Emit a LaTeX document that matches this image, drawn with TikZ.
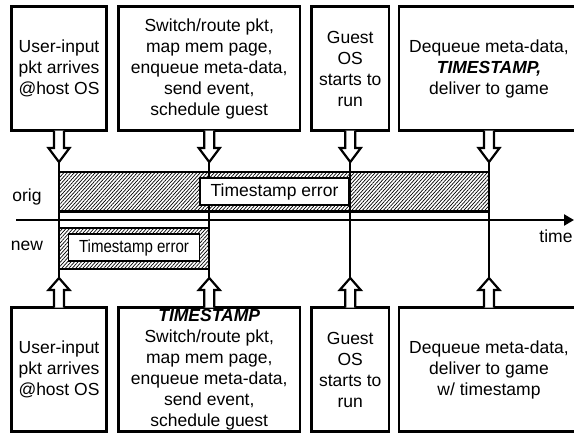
\documentclass[tikz,border=0pt]{standalone}
\usepackage{fontspec}
\setmainfont{Liberation Sans}
\usetikzlibrary{patterns.meta,arrows.meta,calc}
\begin{document}
\begin{tikzpicture}[x=1pt,y=-1pt,
  box/.style={draw,line width=2.6pt,inner sep=0pt,outer sep=0pt,align=center,
    font=\fontsize{17.5}{21}\selectfont,minimum height=124pt},
  lbl/.style={font=\fontsize{17.5}{21}\selectfont,inner sep=0pt},
  blockarrow/.style={draw,fill=white,line width=2.2pt,line join=miter},
  tickline/.style={line width=2pt},
  bar/.style={draw,line width=2.4pt,pattern={Lines[angle=48,distance=2.6pt,line width=0.7pt]}},
  errbox/.style={draw,fill=white,line width=1.2pt,inner sep=0pt,minimum height=27pt,
    font=\fontsize{17.5}{21}\selectfont},
  axis/.style={line width=2.6pt,-{Triangle[length=10pt,width=11pt]}},
  darrow/.pic={\path[blockarrow] (-5,0) -- (-5,17.5) -- (-10.5,17.5) -- (0,31.5) -- (10.5,17.5) -- (5,17.5) -- (5,0);},
  uarrow/.pic={\path[blockarrow] (-5,0) -- (-5,-17.5) -- (-10.5,-17.5) -- (0,-29.5) -- (10.5,-17.5) -- (5,-17.5) -- (5,0);}
]
\useasboundingbox (0,0) rectangle (574,434);

% top boxes
\node[box,minimum width=95pt]  (t1) at (59,68.5) {User-input\\pkt arrives\\@host OS};
\node[box,minimum width=181.5pt] (t2) at (209.25,68.5) {Switch/route pkt,\\map mem page,\\enqueue meta-data,\\send event,\\schedule guest};
\node[box,minimum width=77.5pt] (t3) at (350.25,68.5) {Guest\\OS\\starts to\\run};
\node[box,minimum width=180pt] (t4) at (489,68.5) {Dequeue meta-data,\\\textbf{\textit{TIMESTAMP,}}\\deliver to game};

% bottom boxes
\node[box,minimum width=95pt]  (b1) at (59,369.5) {User-input\\pkt arrives\\@host OS};
\node[box,minimum width=181.5pt] (b2) at (209.25,369.5) {\textbf{\textit{TIMESTAMP}}\\Switch/route pkt,\\map mem page,\\enqueue meta-data,\\send event,\\schedule guest};
\node[box,minimum width=77.5pt] (b3) at (350.25,369.5) {Guest\\OS\\starts to\\run};
\node[box,minimum width=180pt] (b4) at (489,369.5) {Dequeue meta-data,\\deliver to game\\w/ timestamp};

% arrow tips
\foreach \i in {1,2,3,4}{
  \coordinate (a\i) at ($(t\i.south)+(0,31.5)$);
  \coordinate (c\i) at ($(b\i.north)+(0,-29.5)$);
}

% bars
\path[bar] (59,172) rectangle (489,211.5);
\path[bar] (59,228) rectangle (209,269);

% axis
\coordinate (axL) at (16,220);
\coordinate (axR) at (574,220);
\draw[axis] (axL) -- (axR);

% vertical lines
\foreach \i in {1,2,3,4}{ \draw[tickline] (a\i) -- (c\i); }

% error boxes
\node[errbox,minimum width=149pt] (e1) at (274.5,191.5) {Timestamp error};
\node[errbox,minimum width=131pt] (e2) at (134,247.5) {\scalebox{0.86}[1]{Timestamp error}};

% block arrows
\foreach \i in {1,2,3,4}{
  \pic at (t\i.south) {darrow};
  \pic at (b\i.north) {uarrow};
}

% labels
\node[lbl] (lorig) at (27,197) {orig};
\node[lbl] (lnew) at (27,246) {new};
\node[lbl] (ltime) at (556,236) {time};
\end{tikzpicture}
\end{document}
